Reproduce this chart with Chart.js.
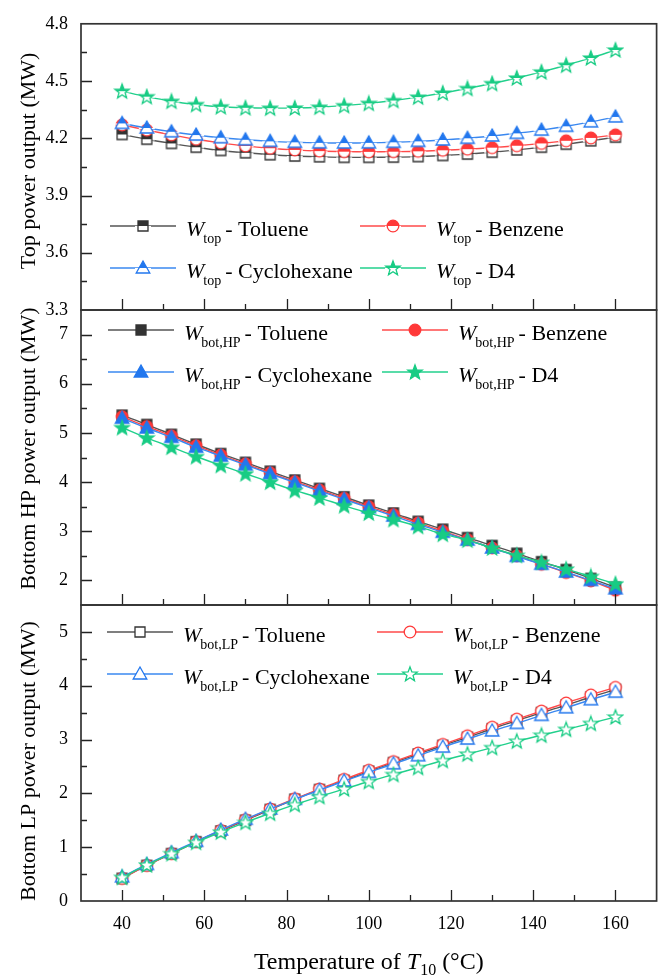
<!DOCTYPE html>
<html>
<head>
<meta charset="utf-8">
<script src="https://cdn.jsdelivr.net/npm/chart.js@4.4.0/dist/chart.umd.min.js"></script>
<style>
	html, body { margin: 0; padding: 0; background: #fff; }
	#wrap { position: relative; width: 664px; height: 977px; }
	#wrap canvas { position: absolute; left: 0; top: 0; }
</style>
</head>
<body>
<div id="wrap">
	<canvas id="topChart" width="664" height="977"></canvas>
	<canvas id="hpChart" width="664" height="977"></canvas>
	<canvas id="lpChart" width="664" height="977"></canvas>
</div>
<script>
var temps = [40, 46, 52, 58, 64, 70, 76, 82, 88, 94, 100, 106, 112, 118, 124, 130, 136, 142, 148, 154, 160];
var solvents = ['Toluene', 'Benzene', 'Cyclohexane', 'D4'];

var topToluene     = [4.220, 4.195, 4.173, 4.153, 4.136, 4.124, 4.114, 4.107, 4.103, 4.100, 4.100, 4.101, 4.104, 4.110, 4.117, 4.127, 4.139, 4.153, 4.169, 4.187, 4.206];
var topBenzene     = [4.270, 4.243, 4.218, 4.195, 4.176, 4.160, 4.148, 4.139, 4.133, 4.130, 4.129, 4.130, 4.132, 4.137, 4.143, 4.151, 4.161, 4.173, 4.187, 4.202, 4.218];
var topCyclohexane = [4.278, 4.254, 4.234, 4.217, 4.203, 4.192, 4.184, 4.179, 4.176, 4.175, 4.176, 4.179, 4.184, 4.191, 4.200, 4.212, 4.226, 4.243, 4.263, 4.286, 4.312];
var topD4          = [4.447, 4.418, 4.394, 4.377, 4.365, 4.360, 4.358, 4.359, 4.363, 4.371, 4.383, 4.398, 4.416, 4.437, 4.461, 4.487, 4.516, 4.548, 4.583, 4.621, 4.663];

var hpToluene     = [5.36, 5.17, 4.97, 4.77, 4.58, 4.40, 4.22, 4.04, 3.87, 3.70, 3.53, 3.37, 3.20, 3.04, 2.87, 2.71, 2.55, 2.38, 2.22, 2.04, 1.86];
var hpBenzene     = [5.33, 5.13, 4.94, 4.74, 4.55, 4.37, 4.19, 4.01, 3.84, 3.67, 3.50, 3.34, 3.17, 3.00, 2.83, 2.66, 2.50, 2.33, 2.16, 1.99, 1.80];
var hpCyclohexane = [5.30, 5.10, 4.91, 4.71, 4.53, 4.35, 4.17, 3.99, 3.82, 3.65, 3.48, 3.31, 3.14, 2.98, 2.82, 2.66, 2.49, 2.33, 2.17, 2.00, 1.83];
var hpD4          = [5.11, 4.90, 4.71, 4.52, 4.34, 4.17, 4.00, 3.83, 3.68, 3.52, 3.37, 3.24, 3.10, 2.94, 2.82, 2.66, 2.51, 2.37, 2.23, 2.08, 1.93];

var lpToluene     = [0.42, 0.66, 0.88, 1.10, 1.30, 1.50, 1.70, 1.89, 2.07, 2.24, 2.41, 2.57, 2.73, 2.89, 3.04, 3.20, 3.35, 3.50, 3.64, 3.79, 3.93];
var lpBenzene     = [0.42, 0.66, 0.88, 1.10, 1.31, 1.51, 1.71, 1.90, 2.08, 2.26, 2.43, 2.59, 2.75, 2.91, 3.07, 3.23, 3.38, 3.53, 3.68, 3.83, 3.97];
var lpCyclohexane = [0.45, 0.68, 0.90, 1.11, 1.32, 1.52, 1.71, 1.89, 2.06, 2.23, 2.39, 2.55, 2.70, 2.86, 3.01, 3.16, 3.30, 3.45, 3.59, 3.74, 3.88];
var lpD4          = [0.44, 0.67, 0.88, 1.09, 1.28, 1.46, 1.63, 1.79, 1.94, 2.08, 2.22, 2.35, 2.48, 2.61, 2.73, 2.85, 2.97, 3.08, 3.19, 3.30, 3.42];

var xTicks = [40, 60, 80, 100, 120, 140, 160];
var topTicks = [3.3, 3.6, 3.9, 4.2, 4.5, 4.8];
var hpTicks = [2, 3, 4, 5, 6, 7];
var lpTicks = [0, 1, 2, 3, 4, 5];

var colors = ['#333333', '#ff3838', '#2277ee', '#18cc84'];
var lineColors = ['#555555', '#ff4a4a', '#3a88f0', '#22d08c'];
var shapes = ['square', 'circle', 'triangle', 'star'];
var FONT = "'Liberation Serif', 'Times New Roman', serif";

// marker drawn into a small canvas; mode = 'half' | 'fill' | 'open'
function makeMarker(shape, color, mode) {
	var size = 18, c = document.createElement('canvas');
	c.width = size; c.height = size;
	var g = c.getContext('2d'), m = size / 2;
	function path() {
		g.beginPath();
		if (shape === 'square') {
			g.rect(m - 5, m - 5, 10, 10);
		} else if (shape === 'circle') {
			g.arc(m, m, 5.8, 0, Math.PI * 2);
		} else if (shape === 'triangle') {
			g.moveTo(m, m - 7);
			g.lineTo(m + 6.8, m + 5);
			g.lineTo(m - 6.8, m + 5);
			g.closePath();
		} else {
			for (var i = 0; i < 10; i++) {
				var r = i % 2 ? 3.2 : 7.6;
				var ang = -Math.PI / 2 + i * Math.PI / 5;
				var px = m + r * Math.cos(ang), py = m + 0.5 + r * Math.sin(ang);
				if (i === 0) g.moveTo(px, py); else g.lineTo(px, py);
			}
			g.closePath();
		}
	}
	g.lineWidth = 1.3;
	g.strokeStyle = color;
	path();
	g.fillStyle = mode === 'fill' ? color : '#fff';
	g.fill();
	if (mode === 'half') {
		g.save();
		g.beginPath();
		g.rect(0, 0, size, m);
		g.clip();
		path();
		g.fillStyle = color;
		g.fill();
		g.restore();
		// thin white seam between halves
		g.fillStyle = '#fff';
		g.fillRect(m - 8, m, 16, 1.2);
	}
	path();
	g.stroke();
	return c;
}

function buildDatasets(series, mode) {
	return series.map(function(values, i) {
		return {
			label: solvents[i],
			data: values,
			borderColor: lineColors[i],
			borderWidth: 1.4,
			pointStyle: makeMarker(shapes[i], colors[i], mode),
			pointRadius: 6,
			tension: 0.35,
			order: 3 - i
		};
	});
}

function drawLegendText(ctx, x, y, sub, name) {
	ctx.fillStyle = '#000';
	ctx.textBaseline = 'alphabetic';
	ctx.textAlign = 'left';
	ctx.font = 'italic 22px ' + FONT;
	ctx.fillText('W', x, y);
	x += ctx.measureText('W').width - 1;
	ctx.font = '14px ' + FONT;
	ctx.fillText(sub, x, y + 7);
	x += ctx.measureText(sub).width + 4;
	ctx.font = '22px ' + FONT;
	ctx.fillText('- ' + name, x, y);
}

// frame, inward ticks, y title, legend with subscripts, x title
var panelPlugin = {
	id: 'panel',
	afterDraw: function(chart, args, opts) {
		var ctx = chart.ctx, a = chart.chartArea;
		var xs = chart.scales.x, ys = chart.scales.y;
		ctx.save();
		ctx.strokeStyle = '#222';
		ctx.lineWidth = 1.3;
		ctx.beginPath();
		xTicks.forEach(function(v) {
			var px = Math.round(xs.getPixelForValue(v)) + 0.5;
			ctx.moveTo(px, a.bottom); ctx.lineTo(px, a.bottom - 11);
			var mx = Math.round(xs.getPixelForValue(v + 10)) + 0.5;
			if (v + 10 < xs.max) { ctx.moveTo(mx, a.bottom); ctx.lineTo(mx, a.bottom - 6); }
		});
		var t = opts.ticks, half = (t[1] - t[0]) / 2;
		for (var v = ys.min; v <= ys.max + 1e-9; v += half) {
			var py = Math.round(ys.getPixelForValue(v)) + 0.5;
			var major = t.some(function(k) { return Math.abs(k - v) < 1e-6; });
			if (py <= a.top + 1 || py >= a.bottom - 1) continue;
			ctx.moveTo(a.left, py); ctx.lineTo(a.left + (major ? 11 : 6), py);
		}
		ctx.stroke();

		ctx.lineWidth = 1.7;
		ctx.strokeStyle = '#333';
		ctx.strokeRect(a.left, a.top, a.right - a.left, a.bottom - a.top);

		// rotated y title
		ctx.save();
		ctx.translate(29, (a.top + a.bottom) / 2 + opts.titleShift);
		ctx.rotate(-Math.PI / 2);
		ctx.fillStyle = '#000';
		ctx.font = '22px ' + FONT;
		ctx.textAlign = 'center';
		ctx.textBaseline = 'middle';
		ctx.fillText(opts.title, 0, 0);
		ctx.restore();

		var lg = opts.legend;
		chart.data.datasets.forEach(function(ds, i) {
			var x0 = lg.x[i % 2], y0 = lg.y[Math.floor(i / 2)];
			ctx.strokeStyle = ds.borderColor;
			ctx.lineWidth = 1.5;
			ctx.beginPath();
			ctx.moveTo(x0, y0); ctx.lineTo(x0 + 66, y0);
			ctx.stroke();
			var img = ds.pointStyle;
			ctx.drawImage(img, x0 + 33 - img.width / 2, y0 - img.height / 2);
			drawLegendText(ctx, x0 + 76, y0 + 10, lg.sub, ds.label);
		});

		if (opts.xTitle) {
			var parts = [
				{ t: 'Temperature of ', f: '24px ' + FONT, dy: 0 },
				{ t: 'T', f: 'italic 24px ' + FONT, dy: 0 },
				{ t: '10', f: '16px ' + FONT, dy: 6 },
				{ t: ' (\u00b0C)', f: '24px ' + FONT, dy: 0 }
			];
			var w = 0;
			parts.forEach(function(p) { ctx.font = p.f; p.w = ctx.measureText(p.t).width; w += p.w; });
			var x = (a.left + a.right) / 2 - w / 2;
			ctx.fillStyle = '#000';
			ctx.textAlign = 'left';
			ctx.textBaseline = 'alphabetic';
			parts.forEach(function(p) { ctx.font = p.f; ctx.fillText(p.t, x, 969 + p.dy); x += p.w; });
		}
		ctx.restore();
	}
};

function panel(id, series, mode, cfg) {
	return new Chart(document.getElementById(id), {
		type: 'line',
		data: { labels: temps, datasets: buildDatasets(series, mode) },
		plugins: [panelPlugin],
		options: {
			responsive: false,
			animation: false,
			devicePixelRatio: 1,
			layout: { padding: { left: 0, right: 4, top: cfg.top, bottom: cfg.bottom } },
			plugins: {
				legend: { display: false },
				tooltip: { enabled: false },
				panel: {
					ticks: cfg.ticks,
					legend: cfg.legend,
					title: cfg.title,
					titleShift: cfg.titleShift,
					xTitle: cfg.xTitle
				}
			},
			scales: {
				x: {
					type: 'linear',
					min: 30,
					max: 170,
					display: cfg.xTitle ? true : false,
					afterBuildTicks: function(s) { s.ticks = xTicks.map(function(v) { return { value: v }; }); },
					afterFit: function(s) { s.height = cfg.xTitle ? 76 : 0; },
					grid: { display: false, drawTicks: false },
					border: { display: false },
					ticks: { color: '#000', padding: 12, maxRotation: 0, font: { family: FONT, size: 18 } }
				},
				y: {
					min: cfg.min,
					max: cfg.max,
					afterBuildTicks: function(s) { s.ticks = cfg.ticks.map(function(v) { return { value: v }; }); },
					afterFit: function(s) { s.width = 81; },
					grid: { display: false, drawTicks: false },
					border: { display: false },
					ticks: {
						color: '#000',
						padding: 13,
						font: { family: FONT, size: 18 },
						callback: function(v) { return v.toFixed(cfg.dec); }
					}
				}
			}
		}
	});
}

// the top label of this panel sits on the frame edge, so its overflow is taken off the padding
panel('topChart', [topToluene, topBenzene, topCyclohexane, topD4], 'half', {
	top: 5, bottom: 667, min: 3.3, max: 4.8, ticks: topTicks, dec: 1,
	title: 'Top power output (MW)', titleShift: -6,
	legend: { x: [110, 360], y: [226, 268], sub: 'top' }
});

panel('hpChart', [hpToluene, hpBenzene, hpCyclohexane, hpD4], 'fill', {
	top: 310, bottom: 372, min: 1.5, max: 7.5, ticks: hpTicks, dec: 0,
	title: 'Bottom HP power output (MW)', titleShift: -9,
	legend: { x: [108, 382], y: [330, 372], sub: 'bot,HP' }
});

panel('lpChart', [lpToluene, lpBenzene, lpCyclohexane, lpD4], 'open', {
	top: 605, bottom: 0, min: 0, max: 5.5, ticks: lpTicks, dec: 0,
	title: 'Bottom LP power output (MW)', titleShift: 8,
	legend: { x: [107, 377], y: [632, 674], sub: 'bot,LP' },
	xTitle: true
});
</script>
</body>
</html>
